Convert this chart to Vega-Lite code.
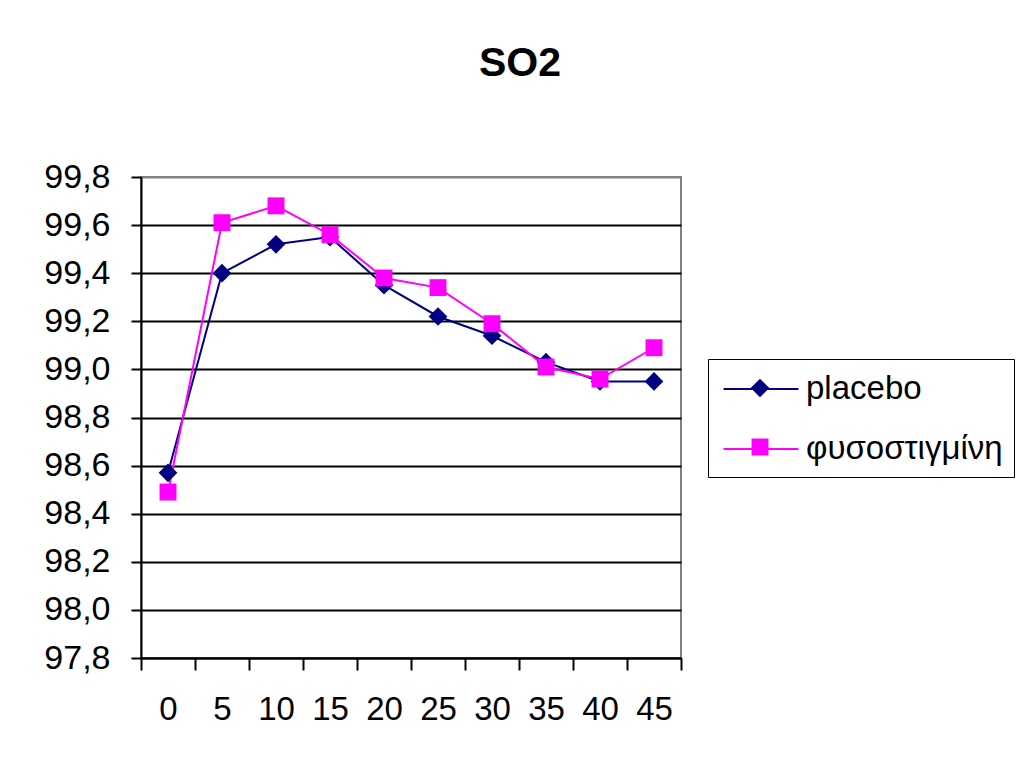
{
  "$schema": "https://vega.github.io/schema/vega-lite/v6.json",
  "width": 540,
  "height": 481,
  "autosize": {"type": "none"},
  "padding": {"left": 141, "top": 177, "right": 341, "bottom": 109},
  "background": "white",
  "title": {
    "text": "SO2",
    "font": "Liberation Sans",
    "fontSize": 41,
    "fontWeight": "bold",
    "color": "black",
    "anchor": "middle",
    "baseline": "alphabetic",
    "dx": 109,
    "offset": 43
  },
  "data": {
    "values": [
      {"min": 0, "group": "placebo", "so2": 98.57},
      {"min": 5, "group": "placebo", "so2": 99.40},
      {"min": 10, "group": "placebo", "so2": 99.52},
      {"min": 15, "group": "placebo", "so2": 99.55},
      {"min": 20, "group": "placebo", "so2": 99.35},
      {"min": 25, "group": "placebo", "so2": 99.22},
      {"min": 30, "group": "placebo", "so2": 99.14},
      {"min": 35, "group": "placebo", "so2": 99.03},
      {"min": 40, "group": "placebo", "so2": 98.95},
      {"min": 45, "group": "placebo", "so2": 98.95},
      {"min": 0, "group": "φυσοστιγμίνη", "so2": 98.49},
      {"min": 5, "group": "φυσοστιγμίνη", "so2": 99.61},
      {"min": 10, "group": "φυσοστιγμίνη", "so2": 99.68},
      {"min": 15, "group": "φυσοστιγμίνη", "so2": 99.56},
      {"min": 20, "group": "φυσοστιγμίνη", "so2": 99.38},
      {"min": 25, "group": "φυσοστιγμίνη", "so2": 99.34},
      {"min": 30, "group": "φυσοστιγμίνη", "so2": 99.19},
      {"min": 35, "group": "φυσοστιγμίνη", "so2": 99.01},
      {"min": 40, "group": "φυσοστιγμίνη", "so2": 98.96},
      {"min": 45, "group": "φυσοστιγμίνη", "so2": 99.09}
    ]
  },
  "encoding": {
    "x": {
      "field": "min",
      "type": "ordinal",
      "scale": {"paddingInner": 0, "paddingOuter": 0},
      "axis": {
        "title": null,
        "labelAngle": 0,
        "tickBand": "extent",
        "tickSize": 12,
        "tickWidth": 2,
        "tickColor": "black",
        "domainColor": "black",
        "domainWidth": 2,
        "grid": false,
        "labelFont": "Liberation Sans",
        "labelFontSize": 33,
        "labelColor": "black",
        "labelPadding": 23
      }
    },
    "y": {
      "field": "so2",
      "type": "quantitative",
      "scale": {"domain": [97.8, 99.8], "nice": false, "zero": false},
      "axis": {
        "title": null,
        "values": [97.8, 98.0, 98.2, 98.4, 98.6, 98.8, 99.0, 99.2, 99.4, 99.6, 99.8],
        "labelExpr": "replace(format(datum.value, '.1f'), '.', ',')",
        "tickSize": 10,
        "tickWidth": 2,
        "tickColor": "black",
        "domainColor": "black",
        "domainWidth": 2,
        "grid": true,
        "gridColor": {"condition": {"test": "datum.value > 99.75", "value": "#808080"}, "value": "black"},
        "gridWidth": 2,
        "gridOpacity": 1,
        "labelFont": "Liberation Sans",
        "labelFontSize": 34,
        "labelColor": "black",
        "labelPadding": 21
      }
    }
  },
  "layer": [
    {
      "mark": {"type": "line", "strokeWidth": 2},
      "encoding": {
        "color": {
          "field": "group",
          "type": "nominal",
          "scale": {"domain": ["placebo", "φυσοστιγμίνη"], "range": ["#000080", "#ff00ff"]},
          "legend": {
            "title": null,
            "orient": "none",
            "legendX": 567,
            "legendY": 182,
            "padding": 11,
            "strokeColor": "black",
            "symbolType": "M-2.08,0H2.08",
            "symbolSize": 1296,
            "symbolOffset": 23,
            "symbolStrokeWidth": 2,
            "labelOffset": 26,
            "labelLimit": 400,
            "rowPadding": 24,
            "labelFont": "Liberation Sans",
            "labelFontSize": 33,
            "labelColor": "black"
          }
        }
      }
    },
    {
      "mark": {"type": "point", "filled": true, "opacity": 1, "size": 1296, "strokeWidth": 0},
      "encoding": {
        "fill": {
          "field": "group",
          "type": "nominal",
          "scale": {"range": ["#000080", "#ff00ff"]},
          "legend": {
            "title": null,
            "orient": "none",
            "legendX": 567,
            "legendY": 182,
            "padding": 11,
            "symbolSize": 1296,
            "symbolOffset": 23,
            "symbolStrokeWidth": 0,
            "labelOffset": 26,
            "labelLimit": 400,
            "labelOpacity": 0,
            "rowPadding": 24,
            "labelFont": "Liberation Sans",
            "labelFontSize": 33
          }
        },
        "shape": {
          "field": "group",
          "type": "nominal",
          "scale": {"range": ["M0,-0.52L0.52,0L0,0.52L-0.52,0Z", "M-0.47,-0.47H0.47V0.47H-0.47Z"]},
          "legend": {
            "title": null,
            "orient": "none",
            "legendX": 567,
            "legendY": 182,
            "padding": 11,
            "symbolSize": 1296,
            "symbolOffset": 23,
            "symbolStrokeWidth": 0,
            "labelOffset": 26,
            "labelLimit": 400,
            "labelOpacity": 0,
            "rowPadding": 24,
            "labelFont": "Liberation Sans",
            "labelFontSize": 33
          }
        }
      }
    }
  ],
  "config": {
    "view": {"stroke": "#808080", "strokeWidth": 2}
  }
}
